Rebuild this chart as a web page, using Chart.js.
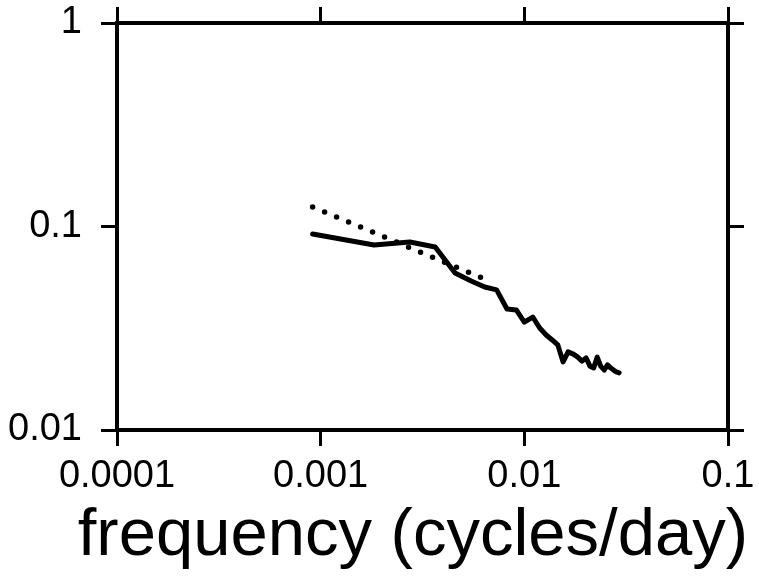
<!DOCTYPE html>
<html>
<head>
<meta charset="utf-8">
<script src="https://cdn.jsdelivr.net/npm/chart.js@4/dist/chart.umd.min.js"></script>
<style>
  html, body { margin: 0; padding: 0; background: #fff; }
  canvas { display: block; }
</style>
</head>
<body>
<canvas id="spectrum" width="759" height="580"></canvas>
<script>
// frequency (cycles/day), one bin per 1/1095 day
const freqs = [0.000913, 0.00183, 0.00274, 0.00365, 0.00457, 0.00548, 0.00639, 0.00731,
  0.00822, 0.00913, 0.0100, 0.0110, 0.0119, 0.0128, 0.0137, 0.0146,
  0.0155, 0.0164, 0.0174, 0.0183, 0.0192, 0.0201, 0.0210, 0.0219,
  0.0228, 0.0237, 0.0247, 0.0256, 0.0265, 0.0274, 0.0283, 0.0292];
const spectrum = [0.0918, 0.0811, 0.0839, 0.0793, 0.0591, 0.0540, 0.0504, 0.0488,
  0.0393, 0.0389, 0.0339, 0.0359, 0.0317, 0.0293, 0.0277, 0.0262,
  0.0216, 0.0242, 0.0236, 0.0228, 0.0218, 0.0226, 0.0206, 0.0202,
  0.0228, 0.0206, 0.0197, 0.0209, 0.0202, 0.0197, 0.0193, 0.0191];

// dotted fit line, read at its two ends
const fitFreqs = [0.000913, 0.00639];
const fitValues = [0.1247, 0.0552];

const xTicks = [0.0001, 0.001, 0.01, 0.1];
const xTickLabels = ['0.0001', '0.001', '0.01', '0.1'];
const yTicks = [0.01, 0.1, 1];
const yTickLabels = ['0.01', '0.1', '1'];

const FONT = 'Liberation Sans, Arial, Helvetica, sans-serif';

const pts = (xs, ys) => xs.map((x, i) => ({ x: x, y: ys[i] }));

// fixed box sizes so the plot frame lands where the original has it
const fixSize = (prop, size) => s => {
  s[prop] = size;
  s.paddingTop = 0; s.paddingBottom = 0; s.paddingLeft = 0; s.paddingRight = 0;
};

const gridOpts = { drawOnChartArea: false, drawTicks: true, tickLength: 16, color: '#000', lineWidth: 3 };
const borderOpts = { display: true, color: '#000', width: 4 };

const ctx = document.getElementById('spectrum');
new Chart(ctx, {
  type: 'scatter',
  data: {
    datasets: [
      {
        data: pts(freqs, spectrum),
        showLine: true,
        borderColor: '#000',
        borderWidth: 5,
        borderJoinStyle: 'round',
        borderCapStyle: 'round',
        pointRadius: 0,
        tension: 0
      },
      {
        data: pts(fitFreqs, fitValues),
        showLine: true,
        borderColor: '#000',
        borderWidth: 5.5,
        borderDash: [0, 13],
        borderCapStyle: 'round',
        pointRadius: 0
      }
    ]
  },
  options: {
    responsive: false,
    animation: false,
    layout: { padding: { top: 0, left: 0, bottom: 0, right: 11 } },
    plugins: {
      legend: { display: false },
      tooltip: { enabled: false },
      // axis title is wider than the plot frame, so it goes in the chart title box
      title: {
        display: true,
        position: 'bottom',
        align: 'end',
        text: 'frequency (cycles/day)',
        color: '#000',
        font: { family: FONT, size: 67, weight: 'normal', lineHeight: 1 },
        padding: { top: 0, bottom: 9.5 }
      }
    },
    scales: {
      x: {
        type: 'logarithmic',
        position: 'bottom',
        min: 0.0001,
        max: 0.1,
        afterBuildTicks: s => { s.ticks = xTicks.map(v => ({ value: v })); },
        afterFit: fixSize('height', 73.5),
        ticks: {
          autoSkip: false,
          maxRotation: 0,
          padding: 8,
          color: '#000',
          font: { family: FONT, size: 38 },
          callback: (v, i) => xTickLabels[i]
        },
        grid: gridOpts,
        border: borderOpts
      },
      x2: {
        type: 'logarithmic',
        position: 'top',
        min: 0.0001,
        max: 0.1,
        afterBuildTicks: s => { s.ticks = xTicks.map(v => ({ value: v })); },
        afterFit: fixSize('height', 23),
        ticks: { display: false },
        grid: gridOpts,
        border: borderOpts
      },
      y: {
        type: 'logarithmic',
        position: 'left',
        min: 0.01,
        max: 1,
        afterBuildTicks: s => { s.ticks = yTicks.map(v => ({ value: v })); },
        afterFit: fixSize('width', 117),
        ticks: {
          autoSkip: false,
          padding: 19,
          color: '#000',
          font: { family: FONT, size: 38 },
          callback: (v, i) => yTickLabels[i]
        },
        grid: gridOpts,
        border: borderOpts
      },
      y2: {
        type: 'logarithmic',
        position: 'right',
        min: 0.01,
        max: 1,
        afterBuildTicks: s => { s.ticks = yTicks.map(v => ({ value: v })); },
        afterFit: fixSize('width', 20),
        ticks: { display: false },
        grid: gridOpts,
        border: borderOpts
      }
    }
  }
});
</script>
</body>
</html>
